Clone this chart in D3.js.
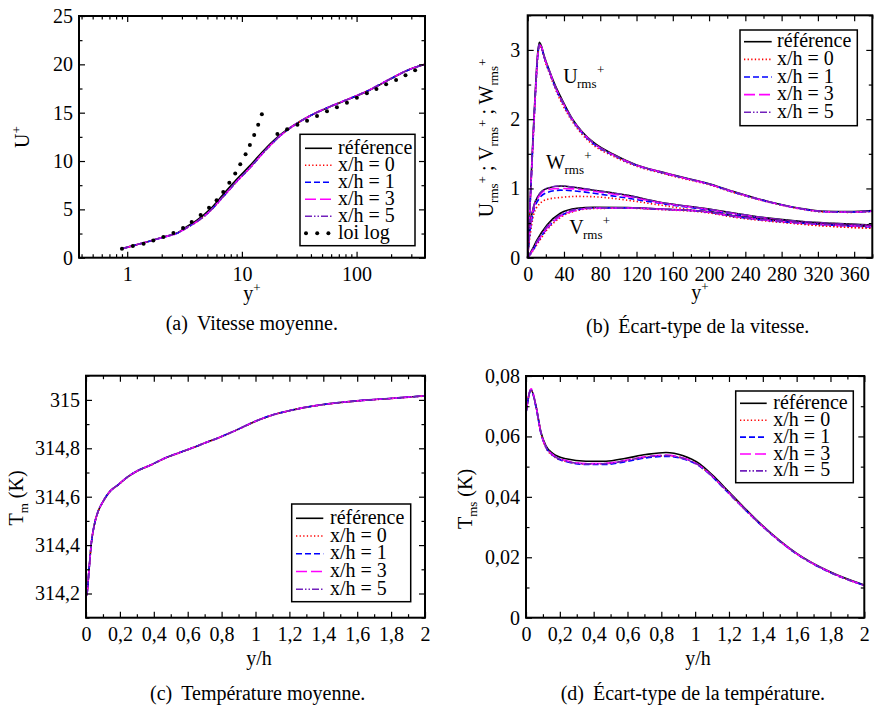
<!DOCTYPE html>
<html><head><meta charset="utf-8">
<script src="https://cdn.jsdelivr.net/npm/d3@7"></script>
<style>
@font-face{font-family:"ChartSerif";src:local("Liberation Serif"),local("LiberationSerif"),local("LiberationSerif-Regular"),local("Tinos"),local("Times New Roman");}
body{margin:0;background:#fff}
</style>
</head><body><script>
// ---------- series definitions ----------
const seriesNames = ["référence","x/h = 0","x/h = 1","x/h = 3","x/h = 5"];
const seriesColors = ["#000000","#ff0000","#0000ff","#ff00ff","#7221bc"];
const seriesDash = ["", "1.3,2.3", "6,3", "11,4", "7,2,1.5,2,1.5,2"];

// ---------- (a) mean velocity ----------
const aYplus = [0.9,1.39,2.07,2.79,3.3,4.03,5.27,6.88,9.0,11.7,16.4,22.1,27.9,39,58.3,86.8,129.7,193.6,289,395];
const aRef = [0.93,1.55,2.14,2.62,3.2,3.85,5.0,6.55,8.1,9.5,11.4,12.8,13.65,14.66,15.6,16.43,17.32,18.43,19.46,20.0];
const aX0  = [0.93,1.53,2.12,2.58,3.08,3.7,4.8,6.3,7.85,9.25,11.2,12.7,13.6,14.64,15.6,16.45,17.35,18.45,19.47,20.0];
const aX1  = [0.93,1.53,2.12,2.58,3.09,3.71,4.82,6.32,7.87,9.27,11.22,12.71,13.61,14.65,15.61,16.45,17.35,18.45,19.47,20.0];
const aX3  = [0.93,1.54,2.13,2.59,3.1,3.72,4.83,6.33,7.88,9.28,11.23,12.72,13.62,14.66,15.62,16.46,17.36,18.46,19.48,20.0];
const aX5  = [0.93,1.54,2.13,2.59,3.1,3.72,4.84,6.34,7.9,9.3,11.25,12.73,13.62,14.66,15.62,16.46,17.36,18.46,19.48,20.0];
const aLawY = [0.9,1.12,1.39,1.69,2.07,2.53,3.07,3.65,4.37,5.17,6.02,6.88,7.77,8.75,9.68,10.77,11.74,12.8,13.87,14.93,
               20.4,24.8,30.5,37.0,45.2,55.2,67.4,82.4,100.6,123,149,181,221,267,324];
const aLawU = [0.93,1.21,1.45,1.79,2.14,2.55,3.07,3.69,4.41,5.17,5.93,6.79,7.76,8.72,9.66,10.7,11.66,12.7,13.76,14.83,
               12.79,13.28,13.76,14.17,14.66,15.14,15.55,16.03,16.55,17.0,17.45,17.93,18.38,18.86,19.38];
const aXTicks = [1,10,100];
const aXMinor = [0.4,0.5,0.6,0.7,0.8,0.9,2,3,4,5,6,7,8,9,20,30,40,50,60,70,80,90,200,300];
const aYTicks = [0,5,10,15,20,25];
const aYMinor = [2.5,7.5,12.5,17.5,22.5];

// ---------- (b) rms velocity ----------
const bYu = [0,1,3,5,7,9,11,12.8,15,18,24,30,38,50,60,73,95,120,146,172,198,226,263,300,326,355,380];
const uRef = [0,0.3,0.9,1.5,2.05,2.55,2.95,3.11,3.06,2.92,2.7,2.5,2.28,1.99,1.82,1.66,1.49,1.34,1.243,1.156,1.075,0.96,0.82,0.715,0.67,0.665,0.68];
const uX0  = [0,0.28,0.85,1.42,1.96,2.45,2.88,3.05,3.03,2.88,2.66,2.45,2.22,1.95,1.78,1.62,1.46,1.32,1.225,1.14,1.06,0.945,0.81,0.705,0.66,0.655,0.665];
const uX1  = [0,0.28,0.86,1.44,1.98,2.48,2.9,3.06,3.04,2.9,2.68,2.47,2.25,1.97,1.8,1.64,1.475,1.33,1.235,1.15,1.07,0.95,0.815,0.71,0.665,0.66,0.67];
const uX3  = [0,0.29,0.87,1.45,2.0,2.5,2.92,3.07,3.05,2.91,2.69,2.48,2.26,1.98,1.81,1.65,1.48,1.335,1.24,1.152,1.07,0.955,0.815,0.71,0.665,0.66,0.67];
const uX5  = [0,0.29,0.88,1.46,2.01,2.51,2.93,3.08,3.05,2.91,2.69,2.48,2.26,1.98,1.81,1.65,1.48,1.335,1.24,1.153,1.071,0.956,0.816,0.711,0.666,0.661,0.672];
const bYw = [0,1.5,3,6.6,12,21,36,55,73,110,146,198,227,263,300,337,380];
const wRef = [0,0.3,0.5,0.74,0.9,1.0,1.036,1.01,0.975,0.9,0.8,0.705,0.645,0.575,0.525,0.495,0.47];
const wX0  = [0,0.2,0.35,0.62,0.76,0.84,0.87,0.885,0.88,0.83,0.76,0.655,0.6,0.54,0.485,0.45,0.425];
const wX1  = [0,0.25,0.42,0.68,0.84,0.94,0.975,0.96,0.93,0.86,0.785,0.69,0.628,0.56,0.508,0.478,0.455];
const wX3  = [0,0.28,0.47,0.72,0.88,0.98,1.0,0.99,0.96,0.885,0.795,0.7,0.638,0.568,0.515,0.485,0.462];
const wX5  = [0,0.3,0.5,0.74,0.9,1.0,1.035,1.01,0.975,0.9,0.8,0.704,0.644,0.574,0.524,0.494,0.47];
const bYv = [0,5,10.3,21.3,36,54.3,72.7,110,146,198,227,263,300,337,380];
const vRef = [0,0.12,0.256,0.473,0.641,0.714,0.728,0.723,0.704,0.665,0.605,0.55,0.51,0.478,0.455];
const vX0  = [0,0.08,0.19,0.4,0.58,0.68,0.71,0.715,0.695,0.65,0.585,0.53,0.49,0.452,0.425];
const vX1  = [0,0.09,0.21,0.42,0.6,0.69,0.715,0.72,0.7,0.66,0.596,0.54,0.5,0.468,0.445];
const vX3  = [0,0.1,0.22,0.43,0.6,0.69,0.715,0.718,0.7,0.66,0.598,0.543,0.503,0.472,0.45];
const vX5  = [0,0.11,0.235,0.45,0.62,0.7,0.72,0.72,0.702,0.662,0.6,0.545,0.506,0.475,0.452];
const bXTicks = [0,40,80,120,160,200,240,280,320,360];
const bXMinor = [20,60,100,140,180,220,260,300,340,380];
const bYTicks = [0,1,2,3];
const bYMinor = [0.5,1.5,2.5,3.5];

// ---------- (c) mean temperature ----------
const cYh = [0,0.006,0.0177,0.0315,0.051,0.0708,0.1003,0.14,0.189,0.248,0.307,0.385,0.464,0.543,0.621,0.70,0.779,0.877,1.0,1.1,1.204,1.3,1.4,1.597,1.794,2.0];
const cRef = [314.19,314.201,314.297,314.408,314.49,314.538,314.58,314.621,314.649,314.683,314.708,314.732,314.759,314.78,314.8,314.822,314.843,314.872,314.912,314.938,314.956,314.97,314.981,314.996,315.006,315.017];
const cX0  = [314.19,314.2,314.295,314.406,314.489,314.537,314.579,314.62,314.648,314.682,314.707,314.731,314.758,314.779,314.799,314.821,314.842,314.871,314.911,314.937,314.955,314.969,314.98,314.995,315.005,315.016];
const cX1  = [314.19,314.2,314.296,314.407,314.49,314.538,314.58,314.621,314.649,314.683,314.708,314.732,314.759,314.78,314.8,314.822,314.843,314.872,314.912,314.938,314.956,314.97,314.981,314.996,315.006,315.017];
const cX3  = [314.19,314.201,314.297,314.408,314.49,314.538,314.58,314.621,314.649,314.683,314.708,314.732,314.759,314.78,314.8,314.822,314.843,314.872,314.912,314.938,314.956,314.97,314.981,314.996,315.006,315.017];
const cX5  = [314.19,314.201,314.297,314.408,314.49,314.538,314.58,314.621,314.649,314.683,314.708,314.732,314.759,314.78,314.8,314.822,314.843,314.872,314.912,314.938,314.956,314.97,314.981,314.996,315.006,315.017];
const cXTicks = [0,0.2,0.4,0.6,0.8,1,1.2,1.4,1.6,1.8,2];
const cXMinor = [0.1,0.3,0.5,0.7,0.9,1.1,1.3,1.5,1.7,1.9];
const cYTicks = [314.2,314.4,314.6,314.8,315];
const cYMinor = [314.1,314.3,314.5,314.7,314.9,315.1];

// ---------- (d) rms temperature ----------
const dYh = [0,0.03,0.059,0.089,0.118,0.158,0.236,0.355,0.473,0.591,0.709,0.828,0.926,1.025,1.104,1.182,1.28,1.383,1.6,1.797,2.0];
const dRef = [0.0677,0.0754,0.0701,0.0613,0.0569,0.0544,0.0526,0.0518,0.0518,0.0528,0.054,0.0547,0.0537,0.051,0.0471,0.0427,0.037,0.0313,0.0213,0.0152,0.0108];
const dX0  = [0.068,0.0756,0.0698,0.0608,0.0562,0.0536,0.0517,0.0509,0.051,0.052,0.0531,0.0536,0.0528,0.0503,0.0466,0.0422,0.0366,0.031,0.0211,0.015,0.0107];
const dX1  = [0.0678,0.0753,0.0697,0.0609,0.0564,0.0538,0.0517,0.0507,0.0507,0.0517,0.0529,0.0534,0.0526,0.0502,0.0465,0.0421,0.0366,0.031,0.0211,0.015,0.0107];
const dX3  = [0.0679,0.0758,0.07,0.061,0.0565,0.054,0.052,0.051,0.0511,0.0521,0.0533,0.0538,0.0529,0.0504,0.0467,0.0423,0.0367,0.0311,0.0212,0.0151,0.0107];
const dX5  = [0.0679,0.0756,0.0699,0.061,0.0565,0.0539,0.0519,0.0509,0.051,0.052,0.0532,0.0537,0.0528,0.0504,0.0467,0.0423,0.0367,0.0311,0.0212,0.0151,0.0107];
const dXTicks = [0,0.2,0.4,0.6,0.8,1,1.2,1.4,1.6,1.8,2];
const dXMinor = [0.1,0.3,0.5,0.7,0.9,1.1,1.3,1.5,1.7,1.9];
const dYTicks = [0,0.02,0.04,0.06,0.08];
const dYMinor = [0.01,0.03,0.05,0.07];

// ---------- drawing ----------
const FONT = "Liberation Serif";
const FS = 20, SFS = 13;
const fr = d => String(+d.toFixed(4)).replace(".", ",");
const svg = d3.select("body").append("svg").attr("width",874).attr("height",707)
  .attr("font-family",FONT);

function axes(g, x, y, xT, xM, yT, yM, xF, yF, yPad){
  const [y0,y1] = y.range(), [x0,x1] = x.range();
  const mk = (ax, tr, vals, size, fmt, pad) => {
    const a = ax.tickValues(vals).tickSize(size).tickFormat(fmt);
    if(pad!==undefined) a.tickPadding(pad);
    const gg = g.append("g").attr("transform",tr).call(a);
    gg.attr("font-family",FONT).attr("font-size",FS);
  };
  mk(d3.axisBottom(x), `translate(0,${y0})`, xT, -6, xF, 9);
  mk(d3.axisBottom(x), `translate(0,${y0})`, xM, -3.5, "");
  mk(d3.axisTop(x), `translate(0,${y1})`, xT, -6, "");
  mk(d3.axisTop(x), `translate(0,${y1})`, xM, -3.5, "");
  mk(d3.axisLeft(y), `translate(${x0},0)`, yT, -6, yF, yPad);
  mk(d3.axisLeft(y), `translate(${x0},0)`, yM, -3.5, "");
  mk(d3.axisRight(y), `translate(${x1},0)`, yT, -6, "");
  mk(d3.axisRight(y), `translate(${x1},0)`, yM, -3.5, "");
  g.selectAll(".domain").remove();
  g.selectAll(".tick line").attr("stroke","#000").attr("stroke-width",1.2);
  g.selectAll(".tick text").attr("font-size",FS).attr("fill","#000");
  g.append("rect").attr("x",x0).attr("y",y1).attr("width",x1-x0).attr("height",y0-y1)
    .attr("fill","none").attr("stroke","#000").attr("stroke-width",2);
}

function curves(g, x, y, xs, ysList){
  const cg = g.append("g");
  const line = d3.line().x(d=>x(d[0])).y(d=>y(d[1])).curve(d3.curveMonotoneX);
  ysList.forEach((ys,i)=>{
    cg.append("path").attr("d",line(xs.map((v,k)=>[v,ys[k]])))
      .attr("fill","none").attr("stroke",seriesColors[i]).attr("stroke-width",1.6)
      .attr("stroke-dasharray",seriesDash[i]||null);
  });
  return cg;
}

function legend(g, box, rowY0, dy, lx1, lx2, tx, withLaw){
  g.append("rect").attr("x",box[0]).attr("y",box[1]).attr("width",box[2]-box[0]).attr("height",box[3]-box[1])
    .attr("fill","#fff").attr("stroke","#000").attr("stroke-width",1.5);
  seriesNames.forEach((n,i)=>{
    const yy = rowY0 + i*dy;
    g.append("line").attr("x1",lx1).attr("x2",lx2).attr("y1",yy).attr("y2",yy)
      .attr("stroke",seriesColors[i]).attr("stroke-width",1.6).attr("stroke-dasharray",seriesDash[i]||null);
    g.append("text").attr("x",tx).attr("y",yy+5.5).attr("font-size",FS).text(n);
  });
  if(withLaw){
    const yy = rowY0 + 5*dy;
    [0,1,2].forEach(k=>g.append("circle").attr("cx",lx1+1+k*11.2).attr("cy",yy).attr("r",2).attr("fill","#000"));
    g.append("text").attr("x",tx).attr("y",yy+5.5).attr("font-size",FS).text("loi log");
  }
}

// ===== Panel (a) =====
{
  const g = svg.append("g");
  const x = d3.scaleLog().domain([0.38,395]).range([79,425]);
  const y = d3.scaleLinear().domain([0,25]).range([257.7,16]);
  const cg = curves(g, x, y, aYplus, [aRef,aX0,aX1,aX3,aX5]);
  cg.selectAll("circle.law").data(aLawY.map((v,i)=>[v,aLawU[i]])).join("circle").attr("class","law")
    .attr("cx",d=>x(d[0])).attr("cy",d=>y(d[1])).attr("r",2).attr("fill","#000");
  axes(g, x, y, aXTicks, aXMinor, aYTicks, aYMinor, d3.format("d"), d3.format("d"), 6);
  legend(g, [300,134.3,415,245.7], 148.3, 17, 305, 332, 338, true);
  const tx = g.append("text").attr("font-size",FS).attr("text-anchor","middle").attr("x",252).attr("y",300);
  tx.append("tspan").text("y"); tx.append("tspan").attr("font-size",SFS).attr("dy",-8).text("+");
  const ty = g.append("text").attr("font-size",FS).attr("text-anchor","middle").attr("transform","translate(28.5,137) rotate(-90)");
  ty.append("tspan").text("U"); ty.append("tspan").attr("font-size",SFS).attr("dy",-8).text("+");
  g.append("text").attr("x",165.7).attr("y",330).attr("font-size",FS).text("(a)")
    .append("tspan").attr("dx",9).text("Vitesse moyenne.");
}

// ===== Panel (b) =====
{
  const g = svg.append("g");
  const x = d3.scaleLinear().domain([0,380]).range([527.7,872.3]);
  const y = d3.scaleLinear().domain([0,3.5]).range([257.7,15.3]);
  curves(g, x, y, bYu, [uRef,uX0,uX1,uX3,uX5]);
  curves(g, x, y, bYw, [wRef,wX0,wX1,wX3,wX5]);
  curves(g, x, y, bYv, [vRef,vX0,vX1,vX3,vX5]);
  axes(g, x, y, bXTicks, bXMinor, bYTicks, bYMinor, d3.format("d"), d3.format("d"), 7.5);
  legend(g, [740,30,857.3,125.7], 41.7, 17.65, 744, 771.7, 777, false);
  const tx = g.append("text").attr("font-size",FS).attr("text-anchor","middle").attr("x",700).attr("y",299);
  tx.append("tspan").text("y"); tx.append("tspan").attr("font-size",SFS).attr("dy",-8).text("+");
  const ty = g.append("text").attr("font-size",FS).attr("text-anchor","middle").attr("transform","translate(493,138) rotate(-90)");
  ["U","V","W"].forEach((L,i)=>{
    ty.append("tspan").attr("font-size",FS).attr("dy", i===0?0:6).text((i===0?"":" ; ")+L);
    ty.append("tspan").attr("font-size",SFS).attr("dy",5).text("rms");
    ty.append("tspan").attr("font-size",SFS).attr("dy",-11).text("+");
  });
  [["U",563.3,83,577,597],["W",546,169.3,564.5,584.3],["V",569.3,234.3,583,602.7]].forEach(a=>{
    g.append("text").attr("x",a[1]).attr("y",a[2]).attr("font-size",FS).text(a[0]);
    g.append("text").attr("x",a[3]).attr("y",a[2]+4.5).attr("font-size",SFS).text("rms");
    g.append("text").attr("x",a[4]).attr("y",a[2]-9).attr("font-size",SFS).text("+");
  });
  g.append("text").attr("x",586).attr("y",333).attr("font-size",FS).text("(b)")
    .append("tspan").attr("dx",9).text("Écart-type de la vitesse.");
}

// ===== Panel (c) =====
{
  const g = svg.append("g");
  const x = d3.scaleLinear().domain([0,2]).range([86,425]);
  const y = d3.scaleLinear().domain([314.1,315.1]).range([617.7,375.7]);
  curves(g, x, y, cYh, [cRef,cX0,cX1,cX3,cX5]);
  axes(g, x, y, cXTicks, cXMinor, cYTicks, cYMinor, fr, fr, 6);
  legend(g, [291.7,504,410.7,601.7], 518.3, 17.75, 296, 323.3, 330, false);
  g.append("text").attr("font-size",FS).attr("text-anchor","middle").attr("x",259).attr("y",665).text("y/h");
  const ty = g.append("text").attr("font-size",FS).attr("text-anchor","middle").attr("transform","translate(23,498) rotate(-90)");
  ty.append("tspan").text("T"); ty.append("tspan").attr("font-size",SFS).attr("dy",5).text("m");
  ty.append("tspan").attr("dy",-5).text(" (K)");
  g.append("text").attr("x",150).attr("y",700).attr("font-size",FS).text("(c)")
    .append("tspan").attr("dx",9).text("Température moyenne.");
}

// ===== Panel (d) =====
{
  const g = svg.append("g");
  const x = d3.scaleLinear().domain([0,2]).range([526,864.3]);
  const y = d3.scaleLinear().domain([0,0.08]).range([617.7,376]);
  curves(g, x, y, dYh, [dRef,dX0,dX1,dX3,dX5]);
  axes(g, x, y, dXTicks, dXMinor, dYTicks, dYMinor, fr, fr, 6);
  legend(g, [735.7,391,853.3,482.7], 403.3, 16.9, 740, 766.7, 773.3, false);
  g.append("text").attr("font-size",FS).attr("text-anchor","middle").attr("x",698).attr("y",665).text("y/h");
  const ty = g.append("text").attr("font-size",FS).attr("text-anchor","middle").attr("transform","translate(472,499) rotate(-90)");
  ty.append("tspan").text("T"); ty.append("tspan").attr("font-size",SFS).attr("dy",5).text("ms");
  ty.append("tspan").attr("dy",-5).text(" (K)");
  g.append("text").attr("x",560.7).attr("y",700).attr("font-size",FS).text("(d)")
    .append("tspan").attr("dx",9).text("Écart-type de la température.");
}
svg.selectAll("text").attr("font-family",FONT).attr("fill","#000");
</script></body></html>
